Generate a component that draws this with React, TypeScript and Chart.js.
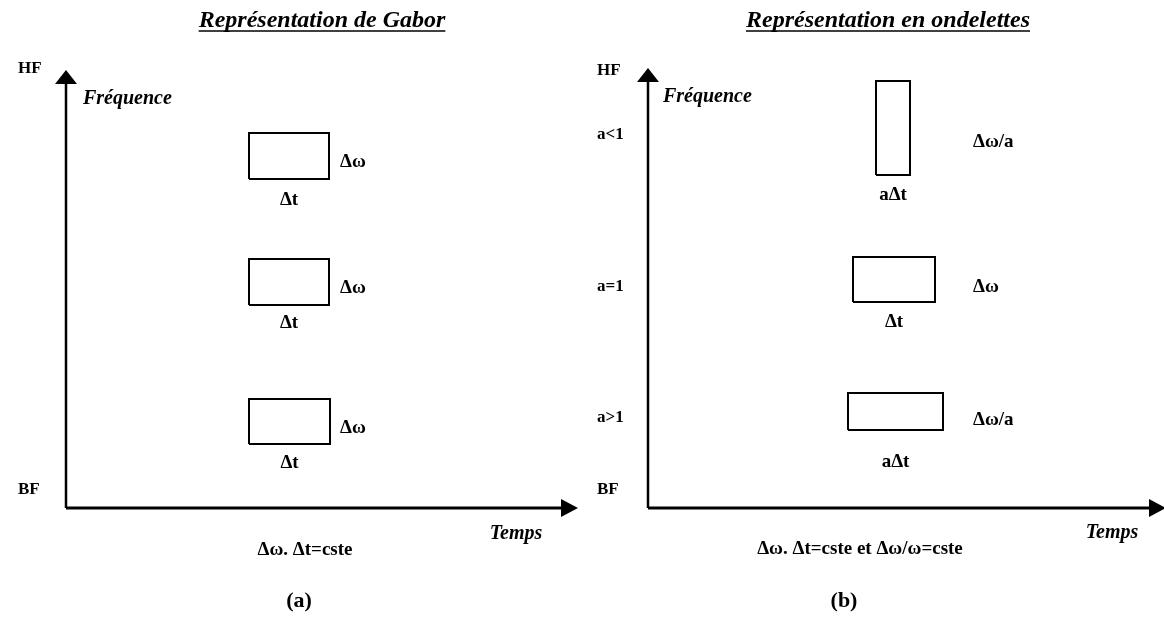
import React, { useEffect, useRef } from "react";
import { Chart, registerables } from "chart.js";

Chart.register(...registerables);

// ---------- Panel (a) : Gabor (time units / frequency units) ----------
const gaborTitle = "Représentation de Gabor";
const gaborTimeTip = 102.4;
const gaborFreqTip = 87.6;
const gaborBoxT0 = [36.6, 36.6, 36.6];
const gaborBoxT1 = [52.6, 52.6, 52.8];
const gaborBoxF0 = [65.8, 40.6, 12.8];
const gaborBoxF1 = [75.0, 49.8, 21.8];
const gaborFreqLabels = ["HF", "BF"];
const gaborFreqLabelY = [87.8, 3.6];
const gaborHeightLabels = ["Δω", "Δω", "Δω"];
const gaborHeightLabelY = [69.2, 44.0, 16.0];
const gaborWidthLabels = ["Δt", "Δt", "Δt"];
const gaborWidthLabelY = [61.6, 37.0, 9.0];
const gaborFormula = "Δω. Δt=cste";
const gaborCaption = "(a)";
// anchor positions (time units) for: title, freq labels, Fréquence, height labels, Temps, formula, caption
const gaborAnchorX = [51.2, -9.6, 3.4, 54.8, 90.0, 47.8, 46.6];
// vertical anchors (frequency units) for: title, Fréquence, Temps, formula, caption
const gaborAnchorY = [97.4, 81.8, -5.2, -8.4, -18.6];

// ---------- Panel (b) : ondelettes ----------
const waveletTitle = "Représentation en ondelettes";
const waveletTimeTip = 103.6;
const waveletFreqTip = 88.0;
const waveletBoxT0 = [45.6, 41.0, 40.0];
const waveletBoxT1 = [52.4, 57.4, 59.0];
const waveletBoxF0 = [66.6, 41.2, 15.6];
const waveletBoxF1 = [85.4, 50.2, 23.0];
const waveletFreqLabels = ["HF", "a<1", "a=1", "a>1", "BF"];
const waveletFreqLabelY = [87.4, 74.6, 44.2, 18.0, 3.6];
const waveletHeightLabels = ["Δω/a", "Δω", "Δω/a"];
const waveletHeightLabelY = [73.2, 44.2, 17.6];
const waveletWidthLabels = ["aΔt", "Δt", "aΔt"];
const waveletWidthLabelY = [62.6, 37.2, 9.2];
const waveletFormula = "Δω. Δt=cste et Δω/ω=cste";
const waveletCaption = "(b)";
const waveletAnchorX = [48.0, -10.2, 3.0, 65.0, 92.8, 42.4, 39.2];
const waveletAnchorY = [97.4, 82.2, -5.0, -8.2, -18.6];

// ---------- shared scale ranges ----------
const timeRange = [-13.2, 103.2];
const freqRange = [-22.0, 101.6];

const FONTS: Record<string, string> = {
  title: "italic bold 24px 'Liberation Serif'",
  axis: "italic bold 20px 'Liberation Serif'",
  tick: "bold 17px 'Liberation Serif'",
  dim: "bold 19px 'Liberation Serif'",
  formula: "bold 19px 'Liberation Serif'",
  caption: "bold 22px 'Liberation Serif'",
};

type Txt = { text: string; x: number; y: number; kind: string; align: CanvasTextAlign };

function buildPanel(
  title: string, timeTip: number, freqTip: number,
  t0: number[], t1: number[], f0: number[], f1: number[],
  freqLabels: string[], freqLabelY: number[],
  hLabels: string[], hLabelY: number[],
  wLabels: string[], wLabelY: number[],
  formula: string, caption: string,
  ax: number[], ay: number[]
) {
  const datasets: any[] = [];
  const lineStyle = { showLine: true, borderColor: "#000", pointRadius: 0, fill: false };
  datasets.push({ ...lineStyle, borderWidth: 3, data: [{ x: 0, y: 0 }, { x: timeTip - 2, y: 0 }] });
  datasets.push({ ...lineStyle, borderWidth: 2.5, data: [{ x: 0, y: 0 }, { x: 0, y: freqTip - 2 }] });
  for (let i = 0; i < t0.length; i++) {
    datasets.push({
      ...lineStyle,
      borderWidth: 2,
      borderJoinStyle: "miter",
      data: [
        { x: t0[i], y: f0[i] }, { x: t1[i], y: f0[i] }, { x: t1[i], y: f1[i] },
        { x: t0[i], y: f1[i] }, { x: t0[i], y: f0[i] },
      ],
    });
  }
  const texts: Txt[] = [];
  texts.push({ text: title, x: ax[0], y: ay[0], kind: "title", align: "center" });
  freqLabels.forEach((s, i) => texts.push({ text: s, x: ax[1], y: freqLabelY[i], kind: "tick", align: "left" }));
  texts.push({ text: "Fréquence", x: ax[2], y: ay[1], kind: "axis", align: "left" });
  hLabels.forEach((s, i) => texts.push({ text: s, x: ax[3], y: hLabelY[i], kind: "dim", align: "left" }));
  wLabels.forEach((s, i) => texts.push({ text: s, x: (t0[i] + t1[i]) / 2, y: wLabelY[i], kind: "dim", align: "center" }));
  texts.push({ text: "Temps", x: ax[4], y: ay[2], kind: "axis", align: "center" });
  texts.push({ text: formula, x: ax[5], y: ay[3], kind: "formula", align: "center" });
  texts.push({ text: caption, x: ax[6], y: ay[4], kind: "caption", align: "center" });

  const plugin = {
    id: "diagram",
    afterDatasetsDraw(chart: any) {
      const { ctx } = chart;
      const xs = chart.scales.x, ys = chart.scales.y;
      const ox = xs.getPixelForValue(0), oy = ys.getPixelForValue(0);
      const tx = xs.getPixelForValue(timeTip), ty = ys.getPixelForValue(freqTip);
      ctx.save();
      ctx.fillStyle = "#000";
      ctx.strokeStyle = "#000";
      ctx.beginPath();
      ctx.moveTo(tx, oy);
      ctx.lineTo(tx - 17, oy - 9);
      ctx.lineTo(tx - 17, oy + 9);
      ctx.closePath();
      ctx.fill();
      ctx.beginPath();
      ctx.moveTo(ox, ty);
      ctx.lineTo(ox - 11, ty + 14);
      ctx.lineTo(ox + 11, ty + 14);
      ctx.closePath();
      ctx.fill();
      ctx.textBaseline = "middle";
      for (const t of texts) {
        ctx.font = FONTS[t.kind];
        ctx.textAlign = t.align;
        const px = xs.getPixelForValue(t.x), py = ys.getPixelForValue(t.y);
        ctx.fillText(t.text, px, py);
        if (t.kind === "title") {
          const w = ctx.measureText(t.text).width;
          const left = t.align === "center" ? px - w / 2 : px;
          ctx.lineWidth = 1.5;
          ctx.beginPath();
          ctx.moveTo(left, py + 10);
          ctx.lineTo(left + w, py + 10);
          ctx.stroke();
        }
      }
      ctx.restore();
    },
  };

  return {
    type: "scatter" as const,
    data: { datasets },
    options: {
      animation: false as const,
      responsive: false,
      devicePixelRatio: 1,
      layout: { padding: 0 },
      plugins: { legend: { display: false }, tooltip: { enabled: false }, title: { display: false } },
      elements: { line: { tension: 0 } },
      scales: {
        x: { type: "linear" as const, min: timeRange[0], max: timeRange[1], display: false },
        y: { type: "linear" as const, min: freqRange[0], max: freqRange[1], display: false },
      },
    },
    plugins: [plugin],
  };
}

export default function App() {
  const refA = useRef<HTMLCanvasElement>(null);
  const refB = useRef<HTMLCanvasElement>(null);
  useEffect(() => {
    const a = new Chart(refA.current!, buildPanel(
      gaborTitle, gaborTimeTip, gaborFreqTip,
      gaborBoxT0, gaborBoxT1, gaborBoxF0, gaborBoxF1,
      gaborFreqLabels, gaborFreqLabelY,
      gaborHeightLabels, gaborHeightLabelY,
      gaborWidthLabels, gaborWidthLabelY,
      gaborFormula, gaborCaption, gaborAnchorX, gaborAnchorY
    ) as any);
    const b = new Chart(refB.current!, buildPanel(
      waveletTitle, waveletTimeTip, waveletFreqTip,
      waveletBoxT0, waveletBoxT1, waveletBoxF0, waveletBoxF1,
      waveletFreqLabels, waveletFreqLabelY,
      waveletHeightLabels, waveletHeightLabelY,
      waveletWidthLabels, waveletWidthLabelY,
      waveletFormula, waveletCaption, waveletAnchorX, waveletAnchorY
    ) as any);
    return () => { a.destroy(); b.destroy(); };
  }, []);
  return (
    <div style={{ position: "absolute", left: 0, top: 0, width: 1164, height: 618, background: "#fff", overflow: "hidden" }}>
      <canvas ref={refA} width={582} height={618} style={{ position: "absolute", left: 0, top: 0, width: 582, height: 618 }} />
      <canvas ref={refB} width={582} height={618} style={{ position: "absolute", left: 582, top: 0, width: 582, height: 618 }} />
    </div>
  );
}
